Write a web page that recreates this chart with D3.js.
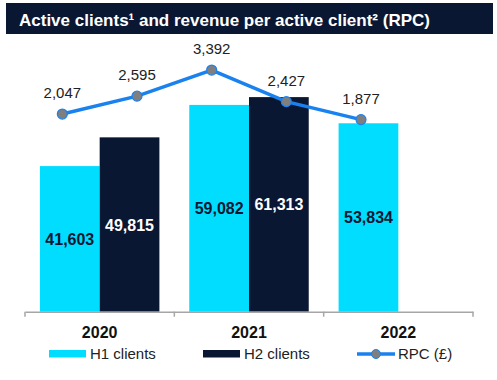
<!DOCTYPE html>
<html>
<head>
<meta charset="utf-8">
<script src="https://cdn.jsdelivr.net/npm/d3@7/dist/d3.min.js"></script>
<style>
  body { margin: 0; background: #fff; }
  text { font-family: "Liberation Sans", Arial, sans-serif; }
</style>
</head>
<body>
<svg id="chart" width="497" height="380"></svg>
<script>
// data
const years = ["2020", "2021", "2022"];
const h1Clients = [41603, 59082, 53834];
const h2Clients = [49815, 61313, null];
const halves = ["H1 2020", "H2 2020", "H1 2021", "H2 2021", "H1 2022"];
const rpc = [2047, 2595, 3392, 2427, 1877];

const svg = d3.select("#chart");

// title bar
svg.append("rect").attr("x", 6).attr("y", 3).attr("width", 487).attr("height", 31).attr("fill", "#0a1733");
svg.append("text").attr("x", 19).attr("y", 26)
  .attr("fill", "#fff").attr("font-size", 17).attr("font-weight", "bold")
  .text("Active clients\u00b9 and revenue per active client\u00b2 (RPC)");

const left = 25, right = 473, base = 311.7;

// category scale, one band per year
const x = d3.scaleBand().domain(years).range([left, right]).paddingInner(0).paddingOuter(0);
const inner = d3.scaleBand().domain(["H1", "H2"]).range([0, x.bandwidth()]).paddingInner(0).paddingOuter(0.25);

// RPC points sit at the quarter points of each year band
const xHalf = d3.scalePoint().domain(halves).range([left + x.bandwidth() / 4, left + x.bandwidth() * 9 / 4]);

const y = d3.scaleLinear().domain([0, 80000]).range([base, base - 280]);
const y2 = d3.scaleLinear().domain([0, 4000]).range([181, 50.2]);

const H1_COL = "#00ddff", H2_COL = "#0a1733", LINE_COL = "#1a82ef";

const bars = [];
years.forEach((yr, i) => {
  bars.push({ year: yr, half: "H1", v: h1Clients[i] });
  if (h2Clients[i] != null) bars.push({ year: yr, half: "H2", v: h2Clients[i] });
});

const g = svg.append("g");
g.selectAll("rect.bar").data(bars).enter().append("rect")
  .attr("class", "bar")
  .attr("x", d => x(d.year) + inner(d.half))
  .attr("width", inner.bandwidth())
  .attr("y", d => y(d.v))
  .attr("height", d => base - y(d.v))
  .attr("fill", d => d.half === "H1" ? H1_COL : H2_COL);

g.selectAll("text.val").data(bars).enter().append("text")
  .attr("x", d => x(d.year) + inner(d.half) + inner.bandwidth() / 2)
  .attr("y", d => (y(d.v) + base) / 2 + 6)
  .attr("text-anchor", "middle")
  .attr("font-size", 16).attr("font-weight", "bold")
  .attr("fill", d => d.half === "H1" ? "#0a1733" : "#fff")
  .text(d => d3.format(",")(d.v));

// x axis
const axis = svg.append("g").attr("transform", `translate(0,${base})`)
  .call(d3.axisBottom(x).tickSize(0).tickFormat(""));
axis.select(".domain").attr("stroke", "#a6a6a6").attr("stroke-width", 1.5);
axis.selectAll(".tick").remove();
const edges = years.map(d => x(d)).concat([right]);
axis.selectAll("line.edge").data(edges).enter().append("line")
  .attr("x1", d => d).attr("x2", d => d).attr("y1", 0).attr("y2", 5)
  .attr("stroke", "#a6a6a6").attr("stroke-width", 1.5);
svg.selectAll("text.year").data(years).enter().append("text")
  .attr("x", d => x(d) + x.bandwidth() / 2).attr("y", 338)
  .attr("text-anchor", "middle").attr("font-size", 16).attr("font-weight", "bold")
  .attr("fill", "#111").text(d => d);

// RPC line
const line = d3.line().x((d, i) => xHalf(halves[i])).y(d => y2(d));
svg.append("path").datum(rpc).attr("d", line)
  .attr("fill", "none").attr("stroke", LINE_COL).attr("stroke-width", 3.5);
svg.selectAll("circle.pt").data(rpc).enter().append("circle")
  .attr("cx", (d, i) => xHalf(halves[i])).attr("cy", d => y2(d)).attr("r", 5)
  .attr("fill", "#7f7f7f").attr("stroke", LINE_COL).attr("stroke-width", 1.2);
svg.selectAll("text.rpc").data(rpc).enter().append("text")
  .attr("x", (d, i) => xHalf(halves[i])).attr("y", d => y2(d) - 16)
  .attr("text-anchor", "middle").attr("font-size", 15).attr("fill", "#222")
  .text(d => d3.format(",")(d));

// legend
const leg = svg.append("g");
leg.append("rect").attr("x", 49).attr("y", 350).attr("width", 37).attr("height", 7.5).attr("fill", H1_COL);
leg.append("text").attr("x", 90).attr("y", 359).attr("font-size", 15).attr("fill", "#222").text("H1 clients");
leg.append("rect").attr("x", 203).attr("y", 350).attr("width", 37).attr("height", 7.5).attr("fill", H2_COL);
leg.append("text").attr("x", 244).attr("y", 359).attr("font-size", 15).attr("fill", "#222").text("H2 clients");
leg.append("line").attr("x1", 357).attr("x2", 395).attr("y1", 354).attr("y2", 354)
  .attr("stroke", LINE_COL).attr("stroke-width", 3.5);
leg.append("circle").attr("cx", 376).attr("cy", 354).attr("r", 4.5)
  .attr("fill", "#7f7f7f").attr("stroke", LINE_COL).attr("stroke-width", 1);
leg.append("text").attr("x", 398).attr("y", 359).attr("font-size", 15).attr("fill", "#222").text("RPC (\u00a3)");
</script>
</body>
</html>
